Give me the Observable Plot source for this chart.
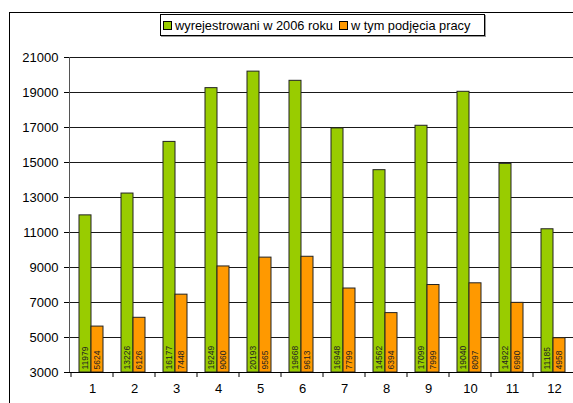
<!DOCTYPE html>
<html>
<head>
<meta charset="utf-8">
<script src="https://cdn.jsdelivr.net/npm/d3@7"></script>
<script src="https://cdn.jsdelivr.net/npm/@observablehq/plot@0.6"></script>
<style>
  html, body { margin: 0; padding: 0; background: white; overflow: hidden; }
  #wrap { position: relative; width: 573px; height: 403px; font-family: "Liberation Sans", Arial, sans-serif; }
  #frame { position: absolute; left: 9px; top: 12px; width: 600px; height: 420px; border-left: 1px solid #000; border-top: 1px solid #000; box-sizing: border-box; pointer-events: none; }
  #legend { position: absolute; left: 160px; top: 14px; width: 325px; height: 22px; border: 1px solid #000; box-sizing: border-box; background: white; box-shadow: 1px 1px 0 #999; font-size: 12.8px; display: flex; align-items: center; padding-left: 2px; white-space: nowrap; }
  .sw { display: inline-block; width: 7px; height: 7px; border: 1px solid #000; margin-right: 3px; }
  .item { display: inline-flex; align-items: center; margin-right: 6px; }
  svg { position: absolute; left: 0; top: 0; }
</style>
</head>
<body>
<div id="wrap">
  <div id="chart"></div>
  <div id="frame"></div>
  <div id="legend"></div>
</div>
<script>
const months = [1, 2, 3, 4, 5, 6, 7, 8, 9, 10, 11, 12];
const registered = [11979, 13226, 16177, 19249, 20193, 19668, 16948, 14562, 17099, 19040, 14922, 11185];
const employed = [5624, 6126, 7448, 9060, 9565, 9613, 7799, 6394, 7999, 8097, 6980, 4958];
const seriesNames = ["wyrejestrowani w 2006 roku", "w tym podjęcia pracy"];
const colors = ["#99CC00", "#FF9900"];
const yTicks = [3000, 5000, 7000, 9000, 11000, 13000, 15000, 17000, 19000, 21000];

const dataA = months.map((m, i) => ({month: m, value: registered[i]}));
const dataB = months.map((m, i) => ({month: m, value: employed[i]}));

const chart = Plot.plot({
  width: 573,
  height: 403,
  marginTop: 57,
  marginBottom: 31,
  marginLeft: 69,
  marginRight: 0,
  style: {fontFamily: "Liberation Sans, Arial, sans-serif", fontSize: "13px", background: "transparent", overflow: "visible"},
  x: {type: "band", domain: months, range: [69, 576], padding: 0},
  y: {domain: [3000, 21000], range: [372, 57]},
  marks: [
    Plot.gridY(yTicks, {stroke: "#000", strokeOpacity: 0.9}),
    Plot.barY(dataA, {x: "month", y1: 3000, y2: "value", fill: colors[0], stroke: "#222", strokeWidth: 1, insetLeft: 8, insetRight: 22}),
    Plot.barY(dataB, {x: "month", y1: 3000, y2: "value", fill: colors[1], stroke: "#222", strokeWidth: 1, insetLeft: 20, insetRight: 10}),
    Plot.text(dataA, {x: "month", y: 3000, text: d => String(d.value), rotate: -90, textAnchor: "start", lineAnchor: "middle", dx: -7, dy: -3, fontSize: 8.5, fill: "#222"}),
    Plot.text(dataB, {x: "month", y: 3000, text: d => String(d.value), rotate: -90, textAnchor: "start", lineAnchor: "middle", dx: 5, dy: -3, fontSize: 8.5, fill: "#222"}),
    Plot.frame({anchor: "left", stroke: "#555"}),
    Plot.ruleY([3000], {stroke: "#000"}),
    Plot.axisY(yTicks, {tickSize: 5, tickPadding: 6, label: null, fill: "#000", stroke: "#000", strokeOpacity: 1, fontSize: 13, tickFormat: d => String(d)}),
    Plot.axisX({tickSize: 0, tickPadding: 11, label: null, fill: "#000", fontSize: 13})
  ]
});
document.getElementById("chart").appendChild(chart);

// boundary ticks below the axis, at band edges derived from the x scale
const xs = chart.scale("x");
const ys = chart.scale("y");
const svgNS = "http://www.w3.org/2000/svg";
const g = document.createElementNS(svgNS, "g");
const y0 = ys.apply(3000);
const edges = months.map(m => xs.apply(m)).concat([xs.apply(12) + xs.bandwidth]);
edges.forEach(x => {
  const l = document.createElementNS(svgNS, "line");
  l.setAttribute("x1", x); l.setAttribute("x2", x);
  l.setAttribute("y1", y0); l.setAttribute("y2", y0 + 5);
  l.setAttribute("stroke", "#000");
  g.appendChild(l);
});
chart.appendChild(g);

const legend = document.getElementById("legend");
seriesNames.forEach((name, i) => {
  const item = document.createElement("span");
  item.className = "item";
  const sw = document.createElement("span");
  sw.className = "sw";
  sw.style.background = colors[i];
  item.appendChild(sw);
  item.appendChild(document.createTextNode(name));
  legend.appendChild(item);
});
</script>
</body>
</html>
